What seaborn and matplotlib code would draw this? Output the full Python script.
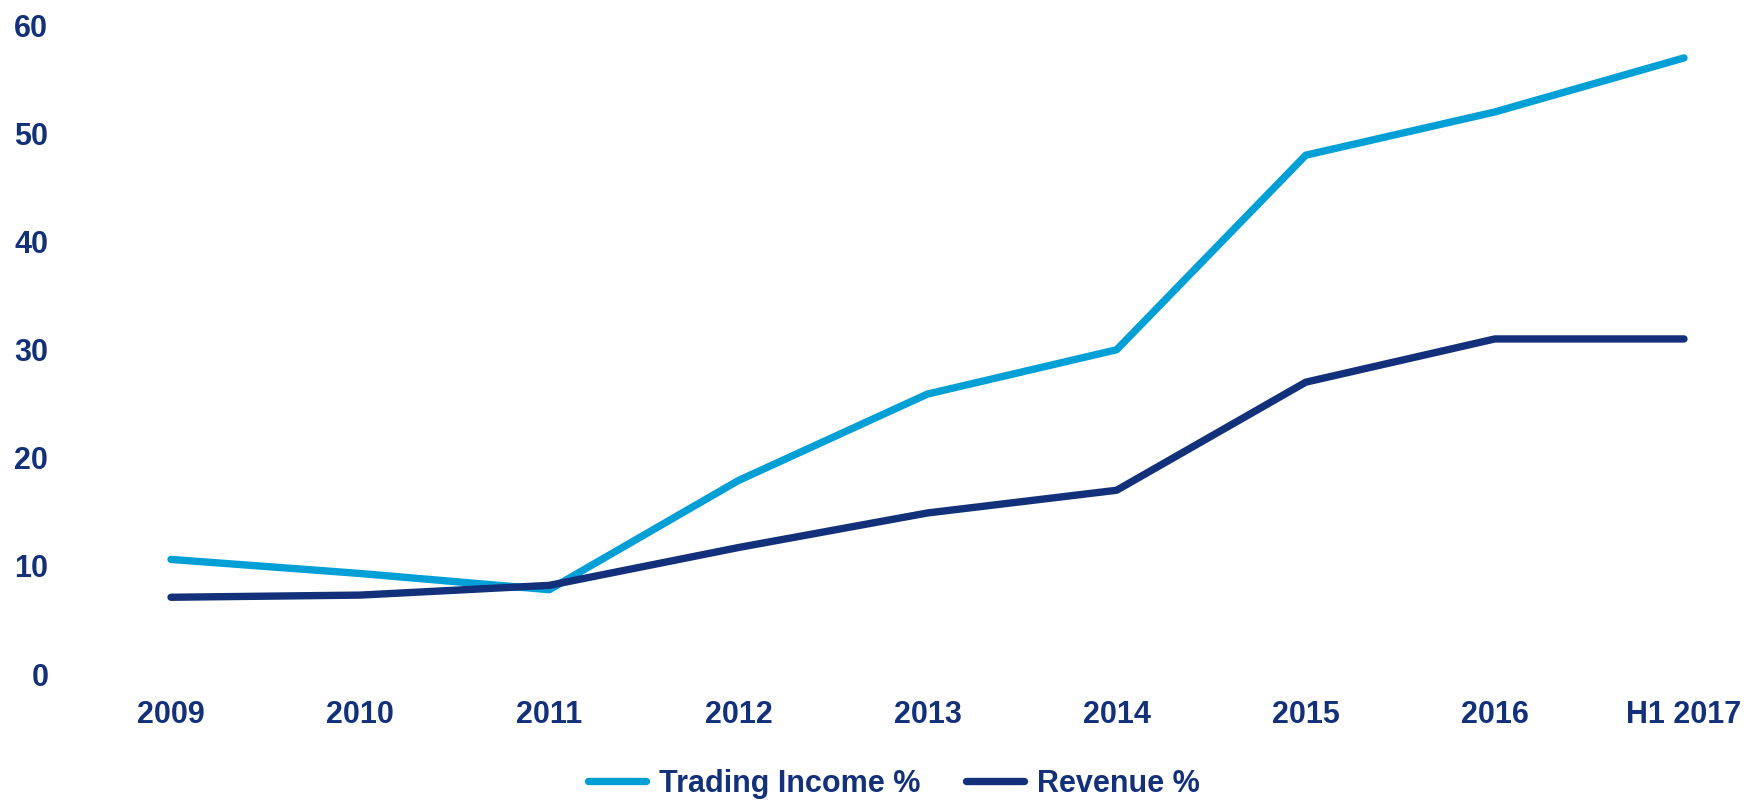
import matplotlib
matplotlib.use("Agg")
import matplotlib.pyplot as plt
import seaborn as sns
import pandas as pd

# Data
years = ["2009", "2010", "2011", "2012", "2013", "2014", "2015", "2016", "H1 2017"]
trading_income_pct = [10.6, 9.3, 7.8, 17.9, 25.9, 30.0, 48.0, 52.0, 57.0]
revenue_pct = [7.1, 7.3, 8.2, 11.7, 14.9, 17.0, 27.0, 31.0, 31.0]
series_names = ["Trading Income %", "Revenue %"]
y_ticks = [0, 10, 20, 30, 40, 50, 60]

CYAN = "#009fd6"
NAVY = "#13317a"

df = pd.DataFrame({
    "year": years * 2,
    "value": trading_income_pct + revenue_pct,
    "series": [series_names[0]] * len(years) + [series_names[1]] * len(years),
})

sns.set_style("white")
plt.rcParams["font.family"] = ["Liberation Sans", "DejaVu Sans"]

fig = plt.figure(figsize=(17.64, 8.05), dpi=100)
ax = fig.add_axes([90 / 1764, 131 / 805, 1674 / 1764, 648.5 / 805])

sns.lineplot(
    data=df, x="year", y="value", hue="series", sort=False,
    palette={series_names[0]: CYAN, series_names[1]: NAVY},
    linewidth=5.3, ax=ax, legend=False,
)
for line in ax.get_lines():
    line.set_solid_capstyle("round")
    line.set_solid_joinstyle("round")
    line.set_clip_on(False)

ax.set_xlim(-0.4283, 8.423)
ax.set_ylim(0, 60)
ax.set_yticks(y_ticks)
ax.set_xlabel("")
ax.set_ylabel("")
sns.despine(ax=ax, left=True, bottom=True)
ax.grid(False)

ax.tick_params(axis="x", length=0, pad=19, labelsize=22, labelcolor=NAVY)
ax.tick_params(axis="y", length=0, pad=30, labelsize=22, labelcolor=NAVY)
for lab in ax.get_xticklabels() + ax.get_yticklabels():
    lab.set_fontweight("bold")

handles = [
    plt.Line2D([], [], color=CYAN, lw=5.3, solid_capstyle="round"),
    plt.Line2D([], [], color=NAVY, lw=5.3, solid_capstyle="round"),
]
leg = fig.legend(
    handles, series_names, loc="center", bbox_to_anchor=(894 / 1764, 1 - 784 / 805),
    ncol=2, frameon=False, handlelength=1.9, handletextpad=0.42, columnspacing=1.5,
    prop={"family": "Liberation Sans", "weight": "bold", "size": 22},
)
for t in leg.get_texts():
    t.set_color(NAVY)

fig.savefig("out.png", dpi=100)
